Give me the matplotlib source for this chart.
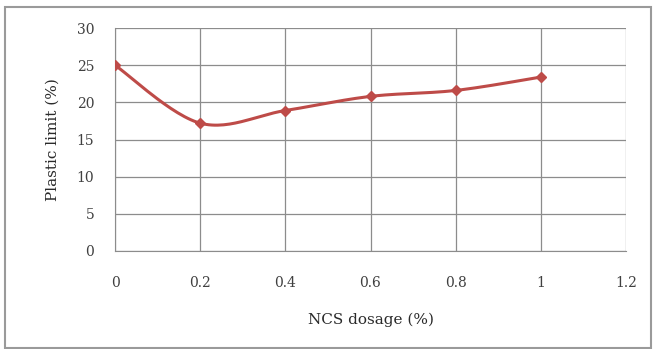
import numpy as np
import matplotlib
matplotlib.use("Agg")
import matplotlib.pyplot as plt
from matplotlib.patches import Rectangle

# data
dosage = [0, 0.2, 0.4, 0.6, 0.8, 1.0]
plastic_limit = [25.0, 17.2, 18.9, 20.8, 21.6, 23.4]
xticks = [0, 0.2, 0.4, 0.6, 0.8, 1, 1.2]
xtick_labels = ["0", "0.2", "0.4", "0.6", "0.8", "1", "1.2"]
yticks = [0, 5, 10, 15, 20, 25, 30]

LINE_COLOR = "#BE4B48"
GRID_COLOR = "#8C8C8C"


def smooth_curve(x, y, n=30):
    """Catmull-Rom style smoothing, like Excel's smoothed line."""
    x = np.asarray(x, float)
    y = np.asarray(y, float)
    px = np.concatenate([[x[0]], x, [x[-1]]])
    py = np.concatenate([[y[0]], y, [y[-1]]])
    xs, ys = [], []
    for i in range(1, len(px) - 2):
        p0, p1, p2, p3 = (np.array([px[j], py[j]]) for j in range(i - 1, i + 3))
        c1 = p1 + (p2 - p0) / 6.0
        c2 = p2 - (p3 - p1) / 6.0
        t = np.linspace(0, 1, n)[:, None]
        pts = ((1 - t) ** 3) * p1 + 3 * ((1 - t) ** 2) * t * c1 + 3 * (1 - t) * t ** 2 * c2 + t ** 3 * p2
        xs.extend(pts[:, 0])
        ys.extend(pts[:, 1])
    return np.array(xs), np.array(ys)


plt.rcParams['font.family'] = ['DejaVu Serif']

fig = plt.figure(figsize=(6.57, 3.49), dpi=100)
W, H = 657, 349
ax = fig.add_axes([115 / W, 1 - 251 / H, (626 - 115) / W, (251 - 28) / H])

sx, sy = smooth_curve(dosage, plastic_limit)
ax.plot(sx, sy, color=LINE_COLOR, linewidth=2.2, zorder=3)
ax.plot(dosage, plastic_limit, linestyle='none', marker='D', markersize=5.5,
        color=LINE_COLOR, zorder=4)

ax.set_xlim(0, 1.2)
ax.set_ylim(0, 30)
ax.set_xticks(xticks)
ax.set_xticklabels(xtick_labels)
ax.set_yticks(yticks)
ax.grid(True, color=GRID_COLOR, linewidth=0.9)
ax.set_axisbelow(True)
for side in ['top', 'right']:
    ax.spines[side].set_visible(False)
for side in ['left', 'bottom']:
    ax.spines[side].set_color(GRID_COLOR)
ax.tick_params(length=0, labelsize=10, colors='#404040')
ax.tick_params(axis='x', pad=18)
ax.tick_params(axis='y', pad=15)

ax.set_xlabel("NCS dosage (%)", fontsize=11, color='#2a2a2a', labelpad=16)
ax.set_ylabel("Plastic limit (%)", fontsize=11, color='#2a2a2a', labelpad=12)

# outer chart frame
fig.patches.append(Rectangle((5 / W, 1 / H), (651 - 5) / W, (342 - 1) / H,
                             transform=fig.transFigure, fill=False,
                             edgecolor='#9A9A9A', linewidth=1.5))

fig.savefig("out.png", dpi=100)
